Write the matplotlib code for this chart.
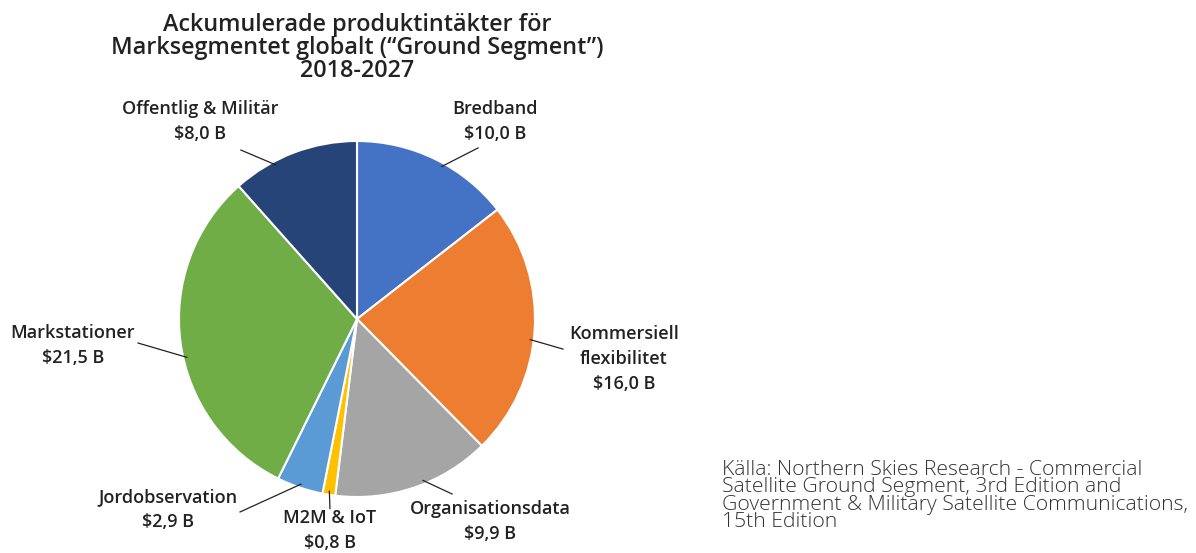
import numpy as np
import matplotlib.pyplot as plt

plt.rcParams['font.family'] = ['Open Sans', 'DejaVu Sans']

labels = ["Bredband", "Kommersiell\nflexibilitet", "Organisationsdata", "M2M & IoT",
          "Jordobservation", "Markstationer", "Offentlig & Militär"]
values = [10.0, 16.0, 9.9, 0.8, 2.9, 21.5, 8.0]
value_text = ["$10,0 B", "$16,0 B", "$9,9 B", "$0,8 B", "$2,9 B", "$21,5 B", "$8,0 B"]
colors = ["#4472C4", "#ED7D31", "#A5A5A5", "#FFC000", "#5B9BD5", "#70AD47", "#264478"]

# label layout (data coords of the pie axes): text centre, leader start, angle nudge
text_pos = [(0.775, 1.110), (1.50, -0.225), (0.747, -1.135), (-0.152, -1.190),
            (-1.062, -1.072), (-1.596, -0.150), (-0.882, 1.110)]
line_start = [(0.680, 0.961), (1.157, -0.169), (0.534, -0.983), (-0.152, -1.065),
              (-0.657, -1.084), (-1.230, -0.135), (-0.652, 0.949)]
angle_nudge = [-3, -3, 3.5, 0, 0, 5, 7]

fig = plt.figure(figsize=(11.96, 5.53), dpi=100)
ax = fig.add_axes([(357 - 178) / 1196, (553 - 497) / 553, 356 / 1196, 356 / 553])
wedges, _ = ax.pie(values, colors=colors, startangle=90, counterclock=False,
                   wedgeprops=dict(edgecolor="white", linewidth=1.5))
ax.set_xlim(-1, 1)
ax.set_ylim(-1, 1)
ax.set_aspect("equal")
ax.axis("off")

for w, lab, vt, tp, ls, nd in zip(wedges, labels, value_text, text_pos, line_start, angle_nudge):
    mid = np.deg2rad((w.theta1 + w.theta2) / 2 + nd)
    ex, ey = 0.98 * np.cos(mid), 0.98 * np.sin(mid)
    ax.plot([ls[0], ex], [ls[1], ey], color="#222222", lw=0.9, clip_on=False)
    ax.text(tp[0], tp[1], lab + "\n" + vt, ha="center", va="center",
            fontsize=13, fontweight="semibold", color="#222222",
            linespacing=1.5, clip_on=False)

fig.text(357 / 1196, 1 - 48 / 553,
         "Ackumulerade produktintäkter för\nMarksegmentet globalt (\u201cGround Segment\u201d)\n2018-2027",
         ha="center", va="center", fontsize=16.8, fontweight="semibold", color="#222222",
         linespacing=0.93)

fig.text(722 / 1196, 1 - 460 / 553,
         "Källa: Northern Skies Research - Commercial\nSatellite Ground Segment, 3rd Edition and\n"
         "Government & Military Satellite Communications,\n15th Edition",
         ha="left", va="top", fontsize=15.2, fontweight="light", color="#333333",
         linespacing=0.83)

fig.savefig("out.png", dpi=100)
